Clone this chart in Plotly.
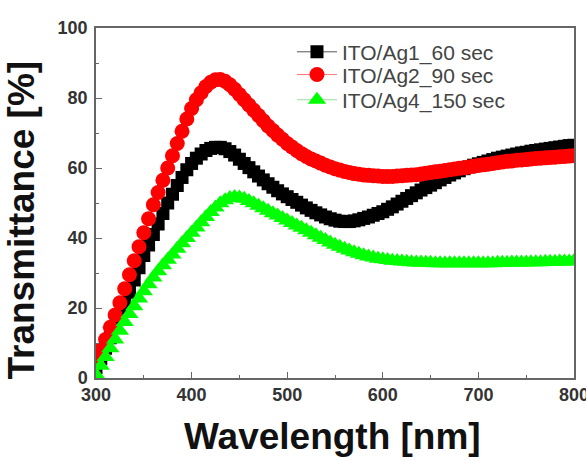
import plotly.graph_objects as go

wavelength = list(range(300, 805, 5))

ag1_60 = [3, 5.5, 8.5, 11.5, 14.5, 17.5, 21, 24.5, 28, 31.5,
          35, 38, 41, 44, 47, 50, 52.5, 55, 57.3, 59.5,
          61.3, 62.8, 64, 65, 65.6, 65.9, 65.9, 65.5, 64.7, 63.7,
          62.5, 61.3, 60.1, 58.9, 57.7, 56.6, 55.5, 54.5, 53.5, 52.6,
          51.8, 51.0, 50.2, 49.4, 48.6, 47.9, 47.2, 46.6, 46.0, 45.5,
          45.1, 44.8, 44.7, 44.7, 44.9, 45.2, 45.6, 46.0, 46.5, 47.0,
          47.5, 48.2, 48.9, 49.7, 50.5, 51.3, 52.1, 52.9, 53.7, 54.4,
          55.1, 55.8, 56.6, 57.3, 58.0, 58.6, 59.2, 59.8, 60.3, 60.8,
          61.2, 61.6, 62.0, 62.4, 62.8, 63.1, 63.4, 63.7, 64.0, 64.3,
          64.5, 64.8, 65.0, 65.2, 65.4, 65.6, 65.8, 66.0, 66.2, 66.4,
          66.5]

ag2_90 = [5, 8, 11, 14.5, 18, 21.5, 25.5, 29.5, 33.5, 37.5,
          41.5, 45.5, 49.5, 53, 56.5, 60, 63.5, 67, 70.5, 74,
          77, 79.5, 81.5, 83.3, 84.5, 85.2, 85.3, 84.8, 83.8, 82.5,
          81, 79.5, 78, 76.5, 75, 73.5, 72, 70.7, 69.4, 68.2,
          67, 66, 65, 64.1, 63.3, 62.6, 62, 61.4, 60.8, 60.3,
          59.8, 59.4, 59, 58.7, 58.4, 58.2, 58, 57.9, 57.8, 57.7,
          57.6, 57.6, 57.6, 57.7, 57.8, 57.9, 58, 58.1, 58.3, 58.5,
          58.7, 58.9, 59.1, 59.3, 59.5, 59.7, 59.9, 60.1, 60.3, 60.5,
          60.7, 60.9, 61.1, 61.3, 61.5, 61.7, 61.9, 62.0, 62.2, 62.3,
          62.4, 62.6, 62.7, 62.8, 62.9, 63.0, 63.1, 63.2, 63.3, 63.4,
          63.5]

ag4_150 = [1, 3.5, 6, 8.5, 11, 13.5, 16, 18.3, 20.5, 22.7,
           24.8, 26.8, 28.7, 30.5, 32.2, 33.8, 35.3, 36.9, 38.5, 40,
           41.5, 43, 44.5, 46, 47.4, 48.7, 49.9, 50.8, 51.4, 51.7,
           51.6, 51.2, 50.6, 49.9, 49.2, 48.5, 47.8, 47.1, 46.4, 45.7,
           45.0, 44.3, 43.6, 42.9, 42.2, 41.5, 40.8, 40.1, 39.4, 38.7,
           38.1, 37.5, 36.9, 36.4, 35.9, 35.5, 35.1, 34.7, 34.4, 34.1,
           33.9, 33.7, 33.5, 33.4, 33.3, 33.2, 33.1, 33.0, 33.0, 32.9,
           32.9, 32.8, 32.8, 32.8, 32.8, 32.8, 32.8, 32.8, 32.8, 32.8,
           32.8, 32.8, 32.8, 32.8, 32.9, 32.9, 32.9, 33.0, 33.0, 33.0,
           33.0, 33.1, 33.1, 33.1, 33.2, 33.2, 33.2, 33.3, 33.3, 33.3,
           33.4]

names = ["ITO/Ag1_60 sec", "ITO/Ag2_90 sec", "ITO/Ag4_150 sec"]
x_ticks = [300, 400, 500, 600, 700, 800]
y_ticks = [0, 20, 40, 60, 80, 100]

FONT = "Liberation Sans, Arial, sans-serif"

fig = go.Figure()
series = [
    (ag1_60, names[0], "#000000", "square", 13, "#555555", "legend"),
    (ag2_90, names[1], "#ff0000", "circle", 15, "#ff7777", "legend2"),
    (ag4_150, names[2], "#00ff00", "triangle-up", 16, "#99dd99", "legend3"),
]
for vals, nm, col, sym, sz, lcol, lg in series:
    fig.add_trace(go.Scatter(
        x=wavelength, y=vals, name=nm, mode="lines+markers",
        line=dict(color=lcol, width=1),
        marker=dict(symbol=sym, size=sz, color=col, line=dict(width=0)),
        legend=lg,
    ))

axis_common = dict(
    showline=True, mirror=True, linecolor="#666666", linewidth=1.5,
    ticks="inside", ticklen=6, tickwidth=1.2, tickcolor="#666666",
    showgrid=False, zeroline=False, ticklabeloverflow="allow", automargin=False,
    tickfont=dict(family=FONT, size=18, color="#333333", weight="bold"),
)

fig.update_xaxes(
    range=[300, 800], tickvals=x_ticks,
    minor=dict(ticks="inside", ticklen=3, tickwidth=1, tickcolor="#666666", dtick=50),
    **axis_common,
)
fig.update_yaxes(
    range=[0, 100], tickvals=y_ticks, ticklabelstandoff=3,
    minor=dict(ticks="inside", ticklen=3, tickwidth=1, tickcolor="#666666", dtick=10),
    **axis_common,
)

title_font = dict(family=FONT, size=37, color="#111111")
fig.add_annotation(text="<b>Wavelength [nm]</b>", xref="paper", yref="paper",
                   x=0.495, y=-0.168, xanchor="center", yanchor="middle",
                   showarrow=False, font=title_font)
fig.add_annotation(text="<b>Transmittance [%]</b>", xref="paper", yref="paper",
                   x=-0.156, y=0.451, xanchor="center", yanchor="middle",
                   textangle=-90, showarrow=False, font=title_font)

leg_common = dict(
    x=0.41, xanchor="left", yanchor="middle",
    bgcolor="rgba(0,0,0,0)", borderwidth=0,
    font=dict(family=FONT, size=21, color="#444444"),
    itemwidth=40,
)
fig.update_layout(
    width=586, height=461,
    margin=dict(l=96, r=12, t=28, b=83, autoexpand=False),
    paper_bgcolor="white", plot_bgcolor="white",
    showlegend=True,
    legend=dict(y=0.931, **leg_common),
    legend2=dict(y=0.866, **leg_common),
    legend3=dict(y=0.794, **leg_common),
)

fig.write_html("out.html")
